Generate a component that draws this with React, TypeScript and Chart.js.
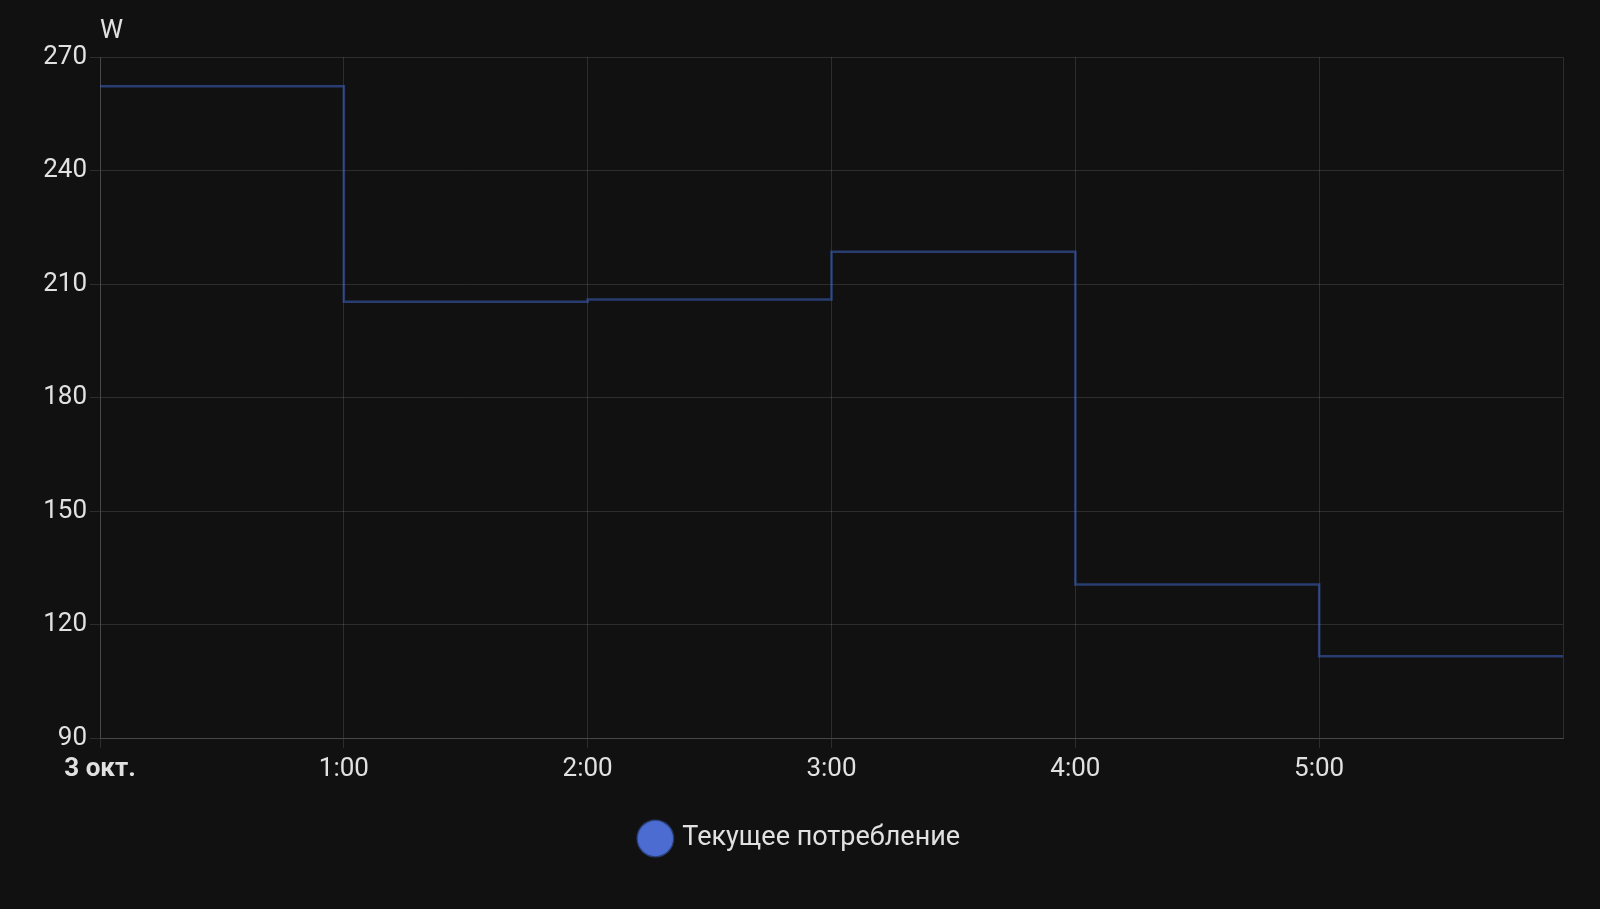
import React, { useEffect, useRef } from "react";
import { Chart, registerables } from "chart.js";

Chart.register(...registerables);

const hours = [0, 1, 2, 3, 4, 5, 6];
const consumption = [262.3, 205.3, 205.9, 218.5, 130.6, 111.6, 111.6];
const seriesLabel = "Текущее потребление";
const dayLabel = "3 окт.";
const unitLabel = "W";
const yTicks = [90, 120, 150, 180, 210, 240, 270];

const FONT = "Roboto";
const TEXT = "#e1e1e1";
const GRID = "rgba(255,255,255,0.12)";
const BG = "#111111";

const unitPlugin = {
  id: "unitLabel",
  afterDraw(chart: any) {
    const { ctx, chartArea } = chart;
    ctx.save();
    ctx.font = `26px ${FONT}`;
    ctx.fillStyle = TEXT;
    ctx.textAlign = "left";
    ctx.textBaseline = "middle";
    ctx.fillText(unitLabel, chartArea.left, chartArea.top - 26);
    ctx.restore();
  },
};

export default function App() {
  const ref = useRef<HTMLCanvasElement>(null);

  useEffect(() => {
    document.body.style.margin = "0";
    document.body.style.background = BG;
    let chart: Chart | null = null;
    let cancelled = false;
    const build = () => {
      if (cancelled || !ref.current) return;
      chart = new Chart(ref.current, {
        type: "line",
        data: {
          datasets: [
            {
              label: seriesLabel,
              data: hours.map((h, i) => ({ x: h, y: consumption[i] })),
              stepped: "before",
              borderColor: "rgba(66,105,208,0.5)",
              backgroundColor: "#4d6cd2",
              borderWidth: 2.5,
              pointRadius: 0,
              fill: false,
            },
          ],
        },
        options: {
          responsive: false,
          maintainAspectRatio: false,
          animation: false,
          layout: { padding: { top: 57, right: 0, left: 2, bottom: 47 } },
          scales: {
            x: {
              type: "linear",
              min: hours[0],
              max: hours[hours.length - 1],
              afterBuildTicks: (scale: any) => {
                scale.ticks = hours.slice(0, -1).map((v) => ({ value: v }));
              },
              afterFit: (scale: any) => {
                scale.height = 77;
              },
              grid: { color: GRID, tickLength: 10, lineWidth: 1 },
              border: { color: GRID },
              ticks: {
                color: TEXT,
                padding: 6,
                maxRotation: 0,
                autoSkip: false,
                font: (ctx: any) =>
                  ctx.tick && ctx.tick.value === 0
                    ? { family: FONT, size: 26, weight: "bold" }
                    : { family: FONT, size: 26 },
                callback: (v: any) => (v === 0 ? dayLabel : `${v}:00`),
              },
            },
            y: {
              min: yTicks[0],
              max: yTicks[yTicks.length - 1],
              afterBuildTicks: (scale: any) => {
                scale.ticks = yTicks.map((v) => ({ value: v }));
              },
              afterFit: (scale: any) => {
                scale.width = 98;
              },
              grid: { color: GRID, tickLength: 10 },
              border: { color: GRID },
              ticks: {
                color: TEXT,
                padding: 3,
                font: { family: FONT, size: 26 },
              },
            },
            yRight: {
              position: "right",
              min: yTicks[0],
              max: yTicks[yTicks.length - 1],
              afterFit: (scale: any) => {
                scale.width = 37;
              },
              grid: { drawOnChartArea: false, drawTicks: false },
              border: { color: GRID },
              ticks: { display: false },
            },
          },
          plugins: {
            legend: {
              position: "bottom",
              labels: {
                usePointStyle: true,
                pointStyle: "circle",
                boxHeight: 25,
                color: TEXT,
                padding: 10,
                font: { family: FONT, size: 27 },
              },
            },
            tooltip: { enabled: false },
          },
        },
        plugins: [unitPlugin],
      });
    };
    const fonts: any = (document as any).fonts;
    if (fonts && fonts.load) {
      Promise.all([
        fonts.load(`26px ${FONT}`),
        fonts.load(`bold 26px ${FONT}`),
        fonts.load(`27px ${FONT}`),
      ])
        .catch(() => null)
        .then(build);
    } else {
      build();
    }
    return () => {
      cancelled = true;
      if (chart) chart.destroy();
    };
  }, []);

  return (
    <div style={{ position: "absolute", left: 0, top: 0, width: 1600, height: 909, background: BG }}>
      <canvas ref={ref} width={1600} height={909} style={{ width: 1600, height: 909, display: "block" }} />
    </div>
  );
}
